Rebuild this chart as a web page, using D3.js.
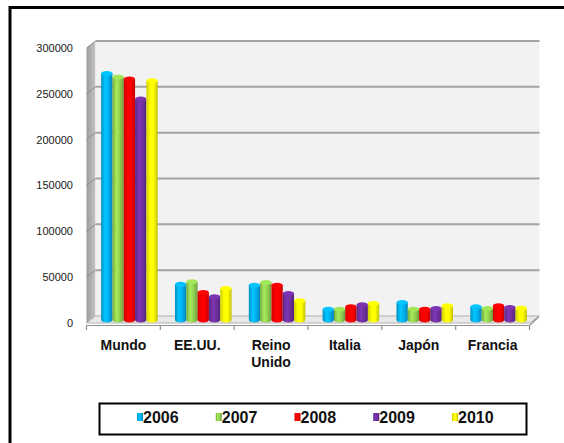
<!DOCTYPE html>
<html>
<head>
<meta charset="utf-8">
<script src="https://cdn.jsdelivr.net/npm/d3@7"></script>
<style>
  body { margin: 0; background: #fff; }
  text { font-family: "Liberation Sans", Arial, sans-serif; }
</style>
</head>
<body>
<script>
const categories = ["Mundo", "EE.UU.", "Reino Unido", "Italia", "Japón", "Francia"];
const years = ["2006", "2007", "2008", "2009", "2010"];
const colors = ["#00b0f0", "#92d050", "#ff0000", "#7030a0", "#ffff00"];
const yTicks = [0, 50000, 100000, 150000, 200000, 250000, 300000];

const v2006 = [269000, 39000, 38000, 11800, 19100, 14400];
const v2007 = [265000, 41700, 40900, 11800, 11800, 12500];
const v2008 = [263000, 30000, 38000, 14400, 11800, 15500];
const v2009 = [241000, 25300, 28900, 16600, 12500, 13600];
const v2010 = [261000, 34400, 20900, 18000, 15500, 12900];
const series = [v2006, v2007, v2008, v2009, v2010];

const width = 564, height = 443;
const dx = 9, dy = 7;   // 3d depth offset

const svg = d3.select("body").append("svg")
    .attr("width", width)
    .attr("height", height);

svg.append("rect").attr("width", width).attr("height", height).attr("fill", "white");

// outer frame (right and bottom edges run off the picture)
svg.append("rect")
    .attr("x", 10).attr("y", 7.5)
    .attr("width", 640).attr("height", 560)
    .attr("fill", "none")
    .attr("stroke", "#000")
    .attr("stroke-width", 3);

const y = d3.scaleLinear().domain([0, 300000]).range([323, 48]);
const x0 = d3.scaleBand().domain(categories).range([86.5, 529.5]);
const x1 = d3.scaleBand().domain(years).range([0, x0.bandwidth()]).paddingOuter(0.765);

const defs = svg.append("defs");

const wallGrad = defs.append("linearGradient").attr("id", "wall");
wallGrad.append("stop").attr("offset", "0%").attr("stop-color", "#9c9c9c");
wallGrad.append("stop").attr("offset", "100%").attr("stop-color", "#c4c4c4");

colors.forEach((c, i) => {
    const g = defs.append("linearGradient").attr("id", "bar" + i);
    const base = d3.color(c);
    g.append("stop").attr("offset", "0%").attr("stop-color", base.darker(0.6));
    g.append("stop").attr("offset", "35%").attr("stop-color", base.brighter(0.35));
    g.append("stop").attr("offset", "65%").attr("stop-color", base);
    g.append("stop").attr("offset", "100%").attr("stop-color", base.darker(0.8));
});

const x0l = x0.range()[0], x0r = x0.range()[1];

// left wall
svg.append("polygon")
    .attr("points", [[x0l, y(300000)], [x0l, y(0)], [x0l + dx, y(0) - dy], [x0l + dx, y(300000) - dy]].join(" "))
    .attr("fill", "url(#wall)");

// back wall
svg.append("rect")
    .attr("x", x0l + dx).attr("y", y(300000) - dy)
    .attr("width", x0r - x0l + 1).attr("height", y(0) - y(300000))
    .attr("fill", "#f2f2f2");

// gridlines
yTicks.forEach(t => {
    if (t === 0) return;
    svg.append("line")
        .attr("x1", x0l + dx).attr("x2", x0r + dx + 1)
        .attr("y1", y(t) - dy).attr("y2", y(t) - dy)
        .attr("stroke", "#a3a3a3").attr("stroke-width", 2);
    svg.append("line")
        .attr("x1", x0l).attr("x2", x0l + dx)
        .attr("y1", y(t)).attr("y2", y(t) - dy)
        .attr("stroke", "#8c8c8c").attr("stroke-width", 1);
});

// floor
svg.append("polygon")
    .attr("points", [[x0l, y(0)], [x0r, y(0)], [x0r + dx + 1, y(0) - dy], [x0l + dx, y(0) - dy]].join(" "))
    .attr("fill", "#e9e9e9")
    .attr("stroke", "#b0b0b0");

svg.append("line")
    .attr("x1", x0l).attr("x2", x0r)
    .attr("y1", y(0) + 2.5).attr("y2", y(0) + 2.5)
    .attr("stroke", "#8f8f8f").attr("stroke-width", 1.2);
svg.append("line")
    .attr("x1", x0r).attr("x2", x0r + dx)
    .attr("y1", y(0) + 2.5).attr("y2", y(0) - dy + 1)
    .attr("stroke", "#8f8f8f").attr("stroke-width", 1.2);

const tickXs = categories.map(c => x0(c)).concat([x0r]);
svg.selectAll("line.tick")
    .data(tickXs)
    .enter().append("line")
    .attr("class", "tick")
    .attr("x1", d => d).attr("x2", d => d)
    .attr("y1", y(0) + 2.5).attr("y2", y(0) + 7)
    .attr("stroke", "#8f8f8f").attr("stroke-width", 1.2);

// y labels
svg.selectAll("text.ylab")
    .data(yTicks)
    .enter().append("text")
    .attr("class", "ylab")
    .attr("x", 73)
    .attr("y", d => y(d))
    .attr("dy", "0.35em")
    .attr("text-anchor", "end")
    .attr("font-size", 11)
    .attr("fill", "#1a1a1a")
    .text(d => d);

// cylinders
const baseY = y(0) - 3;
const shift = dx / 2 + 1.5;
const rx = x1.bandwidth() / 2, ry = 2.5;

series.forEach((vals, si) => {
    const g = svg.append("g").attr("class", "series");
    const fill = "url(#bar" + si + ")";
    const bars = g.selectAll("g.bar")
        .data(vals.map((v, ci) => ({ v, c: categories[ci] })))
        .enter().append("g")
        .attr("class", "bar")
        .attr("transform", d => `translate(${x0(d.c) + x1(years[si]) + shift},0)`);

    bars.append("ellipse")
        .attr("cx", rx).attr("cy", baseY)
        .attr("rx", rx).attr("ry", ry)
        .attr("fill", fill);
    bars.append("rect")
        .attr("x", 0).attr("width", x1.bandwidth())
        .attr("y", d => y(d.v) - 3)
        .attr("height", d => baseY - (y(d.v) - 3))
        .attr("fill", fill);
    bars.append("ellipse")
        .attr("cx", rx).attr("cy", d => y(d.v) - 3)
        .attr("rx", rx).attr("ry", ry)
        .attr("fill", d3.color(colors[si]).brighter(0.3));
});

// category labels
const xl = svg.selectAll("text.xlab")
    .data(categories)
    .enter().append("text")
    .attr("class", "xlab")
    .attr("x", d => x0(d) + x0.bandwidth() / 2)
    .attr("y", 350)
    .attr("text-anchor", "middle")
    .attr("font-size", 14)
    .attr("font-weight", "bold")
    .attr("fill", "#111");

xl.each(function (d) {
    const words = d.split(" ");
    const t = d3.select(this);
    words.forEach((w, i) => {
        t.append("tspan")
            .attr("x", x0(d) + x0.bandwidth() / 2)
            .attr("dy", i === 0 ? 0 : 17)
            .text(w);
    });
});

// legend
svg.append("rect")
    .attr("x", 99.5).attr("y", 403.5)
    .attr("width", 427).attr("height", 31)
    .attr("fill", "none")
    .attr("stroke", "#000")
    .attr("stroke-width", 2);

const lx = d3.scalePoint().domain(years).range([137, 452]);

const leg = svg.selectAll("g.leg")
    .data(years)
    .enter().append("g")
    .attr("class", "leg")
    .attr("transform", d => `translate(${lx(d)},0)`);

leg.append("rect")
    .attr("x", 0).attr("y", 413)
    .attr("width", 6).attr("height", 8)
    .attr("fill", (d, i) => "url(#bar" + i + ")");

leg.append("text")
    .attr("x", 6)
    .attr("y", 423)
    .attr("font-size", 16)
    .attr("font-weight", "bold")
    .attr("fill", "#111")
    .text(d => d);
</script>
</body>
</html>
